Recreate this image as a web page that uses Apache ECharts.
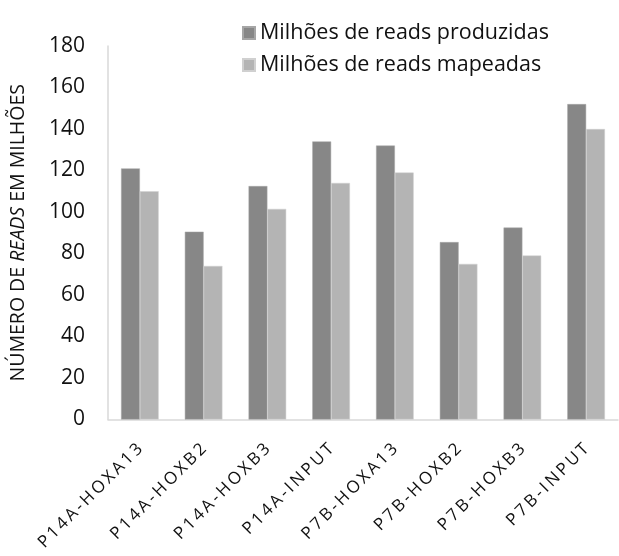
<!DOCTYPE html>
<html>
<head>
<meta charset="utf-8">
<script src="https://cdn.jsdelivr.net/npm/echarts@6/dist/echarts.min.js"></script>
<style>
  html, body { margin: 0; padding: 0; background: #fff; }
  #chart { width: 619px; height: 556px; }
</style>
</head>
<body>
<div id="chart"></div>
<script>
// Samples (x-axis categories)
const samples = ['P14A-HOXA13', 'P14A-HOXB2', 'P14A-HOXB3', 'P14A-INPUT',
                 'P7B-HOXA13', 'P7B-HOXB2', 'P7B-HOXB3', 'P7B-INPUT'];
// Reads produced and reads mapped, in millions
const produzidas = [121, 90.5, 112.5, 134, 132, 85.5, 92.5, 152];
const mapeadas = [110, 74, 101.5, 114, 119, 75, 79, 140];
const seriesNames = ['Milhões de reads produzidas', 'Milhões de reads mapeadas'];
const yTicks = { min: 0, max: 180, step: 20 };

const FONT = 'Open Sans';
const chart = echarts.init(document.getElementById('chart'), null, { renderer: 'canvas' });

chart.setOption({
  animation: false,
  textStyle: { fontFamily: FONT },
  legend: {
    orient: 'vertical',
    left: 237,
    top: 17,
    itemWidth: 12,
    itemHeight: 12,
    itemGap: 10,
    icon: 'rect',
    textStyle: { fontSize: 21.5, lineHeight: 22, color: '#111', fontFamily: FONT },
    data: seriesNames
  },
  grid: { left: 102, right: 1, top: 46, bottom: 136.5, containLabel: false },
  xAxis: {
    type: 'category',
    data: samples,
    axisLine: { show: true, lineStyle: { color: '#d9d9d9', width: 1.5 } },
    axisTick: { show: false },
    axisLabel: {
      rotate: 45,
      interval: 0,
      margin: 27,
      fontSize: 17,
      color: '#111',
      fontFamily: FONT,
      // widen the letter spacing of the sample names
      formatter: v => v.split('').join('\u2009')
    }
  },
  yAxis: {
    type: 'value',
    min: yTicks.min,
    max: yTicks.max,
    interval: yTicks.step,
    splitLine: { show: false },
    axisLine: { show: true, lineStyle: { color: '#d9d9d9', width: 1.5 } },
    axisTick: { show: false },
    axisLabel: { fontSize: 21, color: '#111', margin: 23, fontFamily: FONT },
    name: '{n|NÚMERO DE }{i|READS}{n| EM MILHÕES}',
    nameLocation: 'middle',
    nameGap: 80,
    nameRotate: 90,
    nameTextStyle: {
      rich: {
        n: { fontSize: 19.5, color: '#111', fontFamily: FONT },
        i: { fontSize: 19.5, color: '#111', fontStyle: 'italic', fontFamily: FONT }
      }
    }
  },
  series: [
    {
      name: seriesNames[0],
      type: 'bar',
      data: produzidas,
      barGap: '0%',
      barCategoryGap: '41%',
      itemStyle: { color: '#878787', borderColor: '#a6a6a6', borderWidth: 0.5 }
    },
    {
      name: seriesNames[1],
      type: 'bar',
      data: mapeadas,
      itemStyle: { color: '#b4b4b4', borderColor: '#d0d0d0', borderWidth: 0.5 }
    }
  ]
});
</script>
</body>
</html>
